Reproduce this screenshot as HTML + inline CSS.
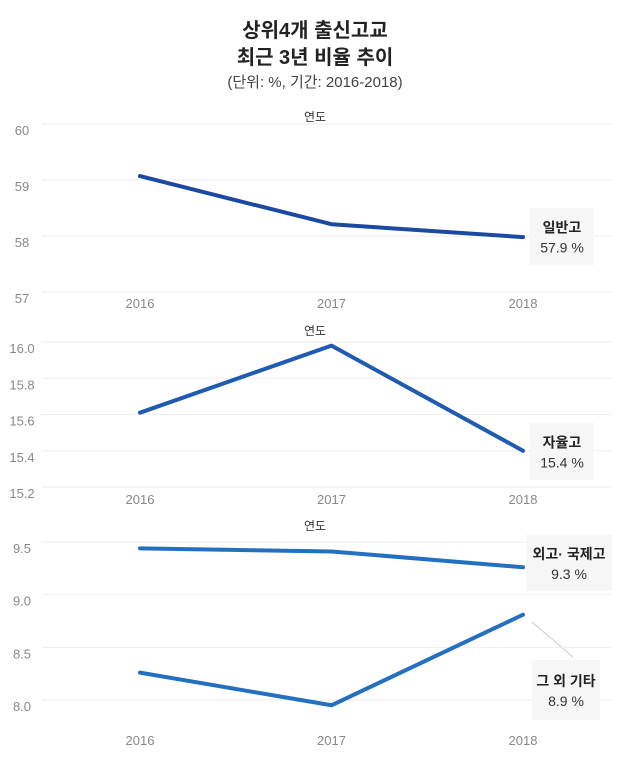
<!DOCTYPE html>
<html><head><meta charset="utf-8">
<style>
body{margin:0;background:#fff;width:630px;height:759px;overflow:hidden;font-family:"Liberation Sans","Noto Sans CJK KR",sans-serif;}
svg text{font-family:"Liberation Sans","Noto Sans CJK KR",sans-serif;}
</style></head>
<body>
<svg id="chart" width="630" height="759" xmlns="http://www.w3.org/2000/svg">
<text x="315" y="37" text-anchor="middle" font-size="20" font-weight="bold" fill="#222">상위4개 출신고교</text>
<text x="315" y="64" text-anchor="middle" font-size="20" font-weight="bold" fill="#222">최근 3년 비율 추이</text>
<text x="315" y="87" text-anchor="middle" font-size="15" fill="#444">(단위: %, 기간: 2016-2018)</text>
</svg>
<script>
const years = ['2016','2017','2018'];
const p1Ticks = [60,59,58,57];
const p1Series = [59.07,58.21,57.98];
const p2Ticks = [16.0,15.8,15.6,15.4,15.2];
const p2Series = [15.61,15.98,15.40];
const p3Ticks = [9.5,9.0,8.5,8.0];
const p3SeriesA = [9.44,9.41,9.26];
const p3SeriesB = [8.26,7.95,8.81];
const p1Label = ['일반고','57.9 %'];
const p2Label = ['자율고','15.4 %'];
const p3LabelA = ['외고· 국제고','9.3 %'];
const p3LabelB = ['그 외 기타','8.9 %'];

const svg = document.getElementById('chart');
const NS = 'http://www.w3.org/2000/svg';
function mk(tag, attrs){const e=document.createElementNS(NS,tag);for(const k in attrs)e.setAttribute(k,attrs[k]);svg.appendChild(e);return e;}
const xPos = [140,333,523];
function xs(i){return xPos[0]+(xPos[2]-xPos[0])*i/(years.length-1);}

function panel(id, ticks, tickFmt, v0, y0, v1, y1, titleY, yearY, series, color, labels){
  const ys = v => y0 + (v - v0) * (y1 - y0) / (v1 - v0);
  const t = mk('text',{x:315,y:titleY,'text-anchor':'middle','font-size':12,fill:'#333'});
  t.textContent='연도';
  
  
  ticks.forEach(v=>{
    const g = mk('line',{x1:42,x2:612,y1:ys(v),y2:ys(v),stroke:'#eee','stroke-width':1});
    
    
    const l = mk('text',{x:22,y:ys(v)+11,'text-anchor':'middle','font-size':13,fill:'#888'});
    l.textContent = tickFmt(v);
    
    
  });
  years.forEach((yr,i)=>{
    const l = mk('text',{x:xs(i),y:yearY,'text-anchor':'middle','font-size':13,fill:'#888'});
    l.textContent = yr;
    
    
  });
  series.forEach((s,si)=>{
    const pts = s.map((v,i)=>xs(i)+','+ys(v)).join(' ');
    const pl = mk('polyline',{points:pts,fill:'none',stroke:color,'stroke-width':4,'stroke-linejoin':'round','stroke-linecap':'round'});
    
    
  });
  labels.forEach(lb=>{
    const r = mk('rect',{x:lb.x,y:lb.y,width:lb.w,height:lb.h,fill:'#f6f6f6'});
    
    
    const a = mk('text',{x:lb.x+lb.w/2,y:lb.y+lb.h/2-4,'text-anchor':'middle','font-size':14,'font-weight':'bold',fill:'#222'});
    a.textContent = lb.t[0];
    
    
    const b = mk('text',{x:lb.x+lb.w/2,y:lb.y+lb.h/2+16,'text-anchor':'middle','font-size':14,fill:'#333'});
    b.textContent = lb.t[1];
    
    
  });
}
panel('panel1', p1Ticks, v=>String(v), 60,124,57,292, 121, 308, [p1Series], '#1b4aa0',
  [{x:530,y:208,w:64,h:57,t:p1Label}]);
panel('panel2', p2Ticks, v=>v.toFixed(1), 16.0,342,15.2,487, 335, 504, [p2Series], '#1f5bb0',
  [{x:530,y:423,w:64,h:57,t:p2Label}]);
// connector line for 그 외 기타
const cn = mk('line',{x1:532,y1:622,x2:573,y2:657,stroke:'#ccc','stroke-width':1});


panel('panel3', p3Ticks, v=>v.toFixed(1), 9.5,542,8.0,700, 530, 745, [p3SeriesA,p3SeriesB], '#2370c0',
  [{x:526,y:535,w:86,h:56,t:p3LabelA},{x:532,y:660,w:68,h:60,t:p3LabelB}]);
</script>
</body></html>
